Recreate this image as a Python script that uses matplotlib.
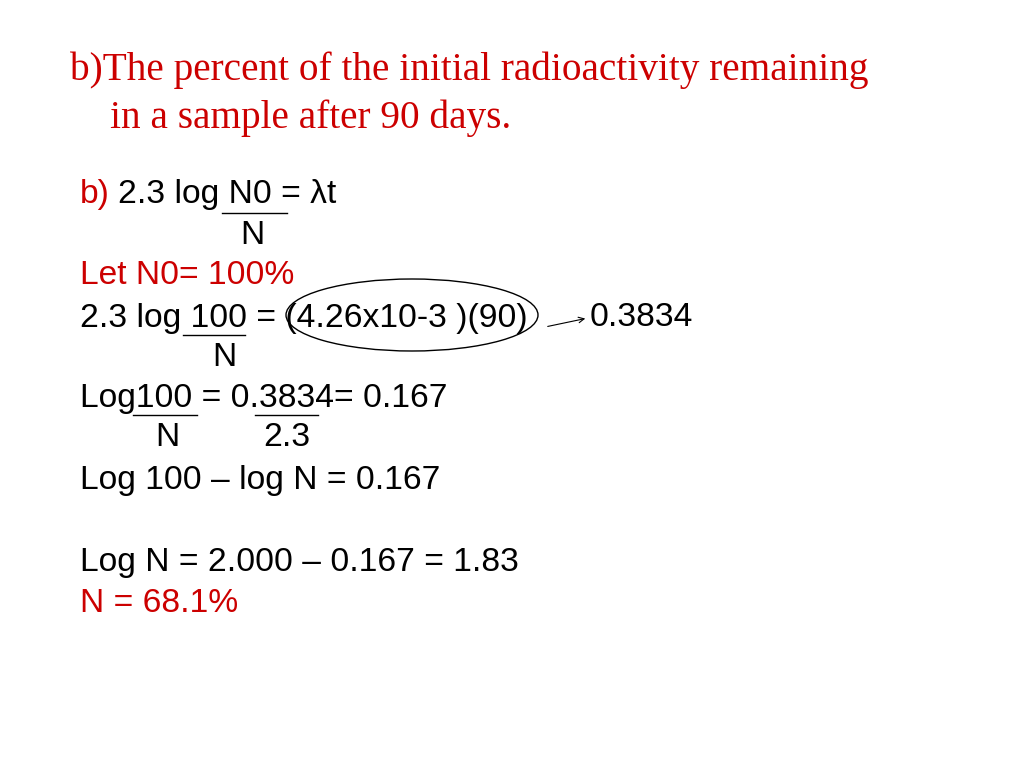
import matplotlib
matplotlib.use("Agg")
import matplotlib.pyplot as plt
from matplotlib.patches import Ellipse

RED = "#cc0000"

title_lines = ["b)The percent of the initial radioactivity remaining",
               "in a sample after 90 days."]
title_pos = [(70, 70), (110, 118)]

# (text, x, y, color)
body = [
    ("b)", 80, 195, RED),
    ("2.3 log N0 = λt", 118, 195, "black"),
    ("N", 240, 235, "black"),
    ("Let N0= 100%", 80, 275, RED),
    ("2.3 log 100 = (4.26x10-3 )(90)", 80, 318, "black"),
    ("0.3834", 590, 318, "black"),
    ("N", 212, 357, "black"),
    ("Log100 = 0.3834= 0.167", 80, 398, "black"),
    ("N", 155, 438, "black"),
    ("2.3", 263, 438, "black"),
    ("Log 100 – log N = 0.167", 80, 480, "black"),
    ("Log N = 2.000 – 0.167 = 1.83", 80, 562, "black"),
    ("N = 68.1%", 80, 603, RED),
]

# fraction bars: (x0, x1, y)
bars = [(222, 287, 213), (183, 245, 335), (133, 197, 415), (255, 318, 415)]

fig = plt.figure(figsize=(10.24, 7.68), dpi=100)
ax = fig.add_axes([0, 0, 1, 1])
ax.set_xlim(0, 1024); ax.set_ylim(768, 0); ax.axis("off")

for t, (x, y) in zip(title_lines, title_pos):
    ax.text(x, y, t, fontsize=28.3, family="Liberation Serif", color=RED, va="center")
for t, x, y, c in body:
    ax.text(x, y, t, fontsize=24.2, family="Liberation Sans", color=c, va="center")
for x0, x1, y in bars:
    ax.plot([x0, x1], [y, y], color="black", lw=1)

ax.add_patch(Ellipse((412, 315), 252, 72, fill=False, edgecolor="black", lw=1))
ax.annotate("", xy=(588, 318), xytext=(545, 327),
            arrowprops=dict(arrowstyle="->", lw=0.8, color="black"))

fig.savefig("out.png", dpi=100)
